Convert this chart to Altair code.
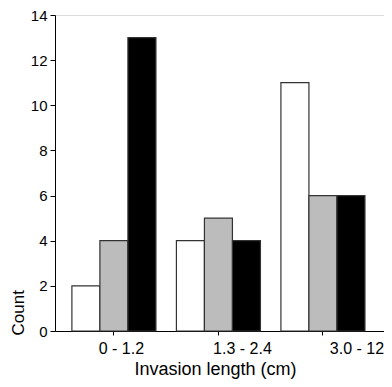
import altair as alt
import pandas as pd

categories = ["0 - 1.2", "1.3 - 2.4", "3.0 - 12"]
series = ["Series 1", "Series 2", "Series 3"]
values_s1 = [2, 4, 11]
values_s2 = [4, 5, 6]
values_s3 = [13, 4, 6]
colors = ["#ffffff", "#bcbcbc", "#000000"]

rows = []
for i, c in enumerate(categories):
    for s, vals in zip(series, [values_s1, values_s2, values_s3]):
        rows.append({"length": c, "series": s, "count": vals[i]})
df = pd.DataFrame(rows)

FONT = "Liberation Sans"

chart = alt.Chart(df).mark_bar(stroke="#333333", strokeWidth=1.2).encode(
    x=alt.X(
        "length:N",
        sort=categories,
        scale=alt.Scale(paddingInner=0.196, paddingOuter=0.172, align=0.47),
        axis=alt.Axis(
            title="Invasion length (cm)",
            labelAngle=0,
            labelFont=FONT,
            labelFontSize=16,
            labelColor="#000000",
            labelBaseline="alphabetic",
            labelPadding=18,
            labelOffset={
                "condition": [
                    {"test": "datum.value === '0 - 1.2'", "value": 7.5},
                    {"test": "datum.value === '1.3 - 2.4'", "value": 24},
                ],
                "value": 34,
            },
            tickSize=4,
            tickColor="#000000",
            domainColor="#000000",
            titleFont=FONT,
            titleFontSize=18,
            titleFontWeight="normal",
            titleColor="#000000",
            titleBaseline="alphabetic",
            titleX=160,
            titleY=43,
            titleAlign="center",
        ),
    ),
    xOffset=alt.XOffset("series:N", sort=series),
    y=alt.Y(
        "count:Q",
        scale=alt.Scale(domain=[0, 14], nice=False),
        axis=alt.Axis(
            title="Count",
            values=[0, 2, 4, 6, 8, 10, 12, 14],
            grid=False,
            labelFont=FONT,
            labelFontSize=15,
            labelColor="#000000",
            labelPadding=3,
            tickSize=5,
            tickColor="#000000",
            domainColor="#000000",
            titleFont=FONT,
            titleFontSize=17,
            titleFontWeight="normal",
            titleColor="#000000",
            titleAngle=270,
            titleAlign="left",
            titleBaseline="alphabetic",
            titleX=-32,
            titleY=320,
        ),
    ),
    color=alt.Color("series:N", sort=series,
                    scale=alt.Scale(domain=series, range=colors), legend=None),
).properties(
    width=329,
    height=316,
    autosize=alt.AutoSizeParams(type="none"),
    padding={"left": 47, "top": 7, "right": 0, "bottom": 48},
).configure_view(stroke=None).configure(background="#ffffff")

chart.save("out.html", embed_options={"renderer": "svg", "actions": False})
